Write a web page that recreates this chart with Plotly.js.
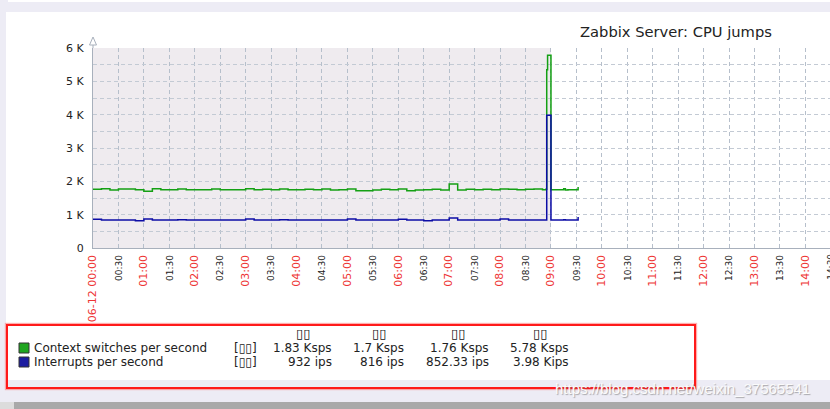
<!DOCTYPE html>
<html>
<head>
<meta charset="utf-8">
<script src="https://cdn.plot.ly/plotly-3.0.1.min.js"></script>
<style>
  html, body { margin:0; padding:0; width:830px; height:409px; overflow:hidden; background:#edecf5; position:relative; }
  #topstrip { position:absolute; left:8px; top:0; width:822px; height:2px; background:#ffffff; }
  #panel { position:absolute; left:6px; top:12px; width:824px; height:368px; background:#ffffff; }
  #scroll { position:absolute; left:0; top:402px; width:830px; height:7px; background:#a9a9a9; }
  #scrollL { position:absolute; left:0; top:402px; width:14px; height:7px; background:#dcdcdc; }
  #chart { position:absolute; left:0; top:0; width:830px; height:409px; }
  #redbox { position:absolute; left:6px; top:324px; width:686px; height:61px; border:2px solid #ff1a1a; box-shadow:0 0 1px 1px rgba(255,120,120,0.6); pointer-events:none; }
  #wm { position:absolute; left:0; top:0; width:830px; height:409px; pointer-events:none; }
</style>
</head>
<body>
<div id="topstrip"></div>
<div id="panel"></div>
<div id="scroll"></div>
<div id="scrollL"></div>
<div id="chart"></div>
<div id="redbox"></div>
<div id="wm"></div>
<script>
// ---- data (minutes after 06-12 00:00) ----
const minutes = [0,10,20,30,40,50,60,70,80,90,100,110,120,130,140,150,160,170,180,190,
  200,210,220,230,240,250,260,270,280,290,300,310,320,330,340,350,360,370,380,390,
  400,410,420,430,440,450,460,470,480,490,500,510,520,530,534,535,536,540,545,550,555,557,560,565,570,572];
const contextSwitches = [1760,1775,1740,1770,1770,1750,1700,1780,1750,1750,1770,1750,1750,1750,1770,1750,1750,1750,1780,1750,
  1760,1750,1770,1750,1750,1760,1750,1770,1740,1750,1770,1720,1720,1740,1760,1750,1770,1720,1740,1750,
  1760,1740,1920,1740,1760,1750,1760,1750,1770,1760,1750,1760,1770,1750,1760,5350,5780,1750,1750,1750,1780,1740,1750,1750,1750,1830];
const interrupts = [860,840,840,840,840,816,870,840,840,840,845,840,840,840,840,840,840,840,870,840,
  840,840,850,840,840,840,840,840,840,840,870,840,840,840,840,840,860,840,840,820,
  840,840,900,840,840,840,840,840,870,840,840,840,840,840,840,3980,3980,840,840,840,845,840,840,840,840,932];

const xTickVals = [0,30,60,90,120,150,180,210,240,270,300,330,360,390,420,450,480,510,540,570,600,630,660,690,720,750,780,810,840,870];
const xTickLabels = ["06-12 00:00","00:30","01:00","01:30","02:00","02:30","03:00","03:30","04:00","04:30","05:00","05:30","06:00","06:30","07:00","07:30","08:00","08:30","09:00","09:30","10:00","10:30","11:00","11:30","12:00","12:30","13:00","13:30","14:00","14:30"];
const yTickVals = [0,500,1000,1500,2000,2500,3000,3500,4000,4500,5000,5500,6000];
const yTickLabels = ["0","","1 K","","2 K","","3 K","","4 K","","5 K","","6 K"];

const seriesNames = ["Context switches per second","Interrupts per second"];
const seriesFunc = ["[\u25AF\u25AF]","[\u25AF\u25AF]"];
const statHeaders = ["\u25AF\u25AF","\u25AF\u25AF","\u25AF\u25AF","\u25AF\u25AF"];
const statsContext = ["1.83 Ksps","1.7 Ksps","1.76 Ksps","5.78 Ksps"];
const statsInterrupts = ["932 ips","816 ips","852.33 ips","3.98 Kips"];
const chartTitle = "Zabbix Server: CPU jumps";
const watermark = "https://blog.csdn.net/weixin_37565541";
const workTimeEnd = 540;
const xMax = 869;

// ---- layout helpers (pixel -> paper) ----
const L = 93, R = 830, T = 48, B = 248;
const px = v => (v - L) / (R - L);
const py = v => (B - v) / (B - T);

const colGreen = '#14a014', colBlue = '#0c0ca6';
const font = 'DejaVu Sans, sans-serif';

const isHour = i => i % 2 === 0;
const styleLabel = (t, i) => isHour(i)
  ? '<span style="color:#ee3535;font-size:11px">' + t + '</span>'
  : '<span style="color:#222222;font-size:9px">' + t + '</span>';
const ticktext = xTickLabels.map(styleLabel);

const traces = [
  {x: minutes, y: contextSwitches, type:'scatter', mode:'lines', line:{color:colGreen, width:1.5, shape:'hv'}, name:seriesNames[0], hoverinfo:'skip'},
  {x: minutes, y: interrupts, type:'scatter', mode:'lines', line:{color:colBlue, width:1.5, shape:'hv'}, name:seriesNames[1], hoverinfo:'skip'}
];

const ann = [];
ann.push({text: chartTitle, xref:'paper', yref:'paper', x: px(774), y: py(31), xanchor:'right', yanchor:'middle', showarrow:false, font:{family:font, size:14.7, color:'#222'}});
// tick labels whose tick lies just beyond the visible range (partly cut by the window edge)
xTickVals.forEach((v, i) => {
  if (v > xMax) ann.push({text: styleLabel(xTickLabels[i], i), xref:'paper', yref:'paper', x: v / xMax, y: py(252), xanchor:'center', yanchor:'top', textangle:-90, showarrow:false, font:{family:font, size:10}});
});
const headerX = [303, 379, 458, 540];
const valueRight = [333, 405, 490, 570];
statHeaders.forEach((h, i) => ann.push({text:h, xref:'paper', yref:'paper', x:px(headerX[i]), y:py(333), xanchor:'center', yanchor:'middle', showarrow:false, borderpad:0, font:{family:font, size:13, color:'#111', weight:'bold'}}));
const rows = [{y:347.5, stats:statsContext}, {y:362, stats:statsInterrupts}];
rows.forEach((r, k) => {
  ann.push({text: seriesNames[k], xref:'paper', yref:'paper', x:px(33), y:py(r.y), xanchor:'left', yanchor:'middle', showarrow:false, borderpad:0, font:{family:font, size:12, color:'#222'}});
  ann.push({text: seriesFunc[k], xref:'paper', yref:'paper', x:px(233), y:py(r.y), xanchor:'left', yanchor:'middle', showarrow:false, borderpad:0, font:{family:font, size:12, color:'#222'}});
  r.stats.forEach((s, i) => ann.push({text:s, xref:'paper', yref:'paper', x:px(valueRight[i]), y:py(r.y), xanchor:'right', yanchor:'middle', showarrow:false, borderpad:0, font:{family:font, size:12, color:'#222'}}));
});

const shapes = [
  {type:'rect', xref:'x', yref:'paper', x0:0, x1:workTimeEnd, y0:0, y1:1, fillcolor:'#efebef', line:{width:0}, layer:'below'},
  {type:'line', xref:'paper', yref:'paper', x0:0, x1:0, y0:1, y1:py(40), line:{color:'#a8b0bc', width:1}},
  {type:'path', xref:'paper', yref:'paper', path:'M '+px(89.5)+' '+py(45)+' L '+px(96.5)+' '+py(45)+' L '+px(93)+' '+py(37)+' Z', fillcolor:'#ffffff', line:{color:'#a8b0bc', width:1}},
  {type:'rect', xref:'paper', yref:'paper', x0:px(19), x1:px(29), y0:py(343), y1:py(353), fillcolor:'#1fa51f', line:{color:'#333', width:1}},
  {type:'rect', xref:'paper', yref:'paper', x0:px(19), x1:px(29), y0:py(357), y1:py(367), fillcolor:'#1c1ca0', line:{color:'#333', width:1}}
];

const layout = {
  width:830, height:409,
  margin:{l:L, r:830-R, t:T, b:409-B, pad:0},
  paper_bgcolor:'rgba(0,0,0,0)', plot_bgcolor:'#ffffff',
  showlegend:false,
  xaxis:{range:[0, xMax], tickmode:'array', tickvals:xTickVals, ticktext:ticktext, tickangle:-90,
         tickfont:{family:font, size:10}, ticks:'', showgrid:true, gridcolor:'#b6bfcb', griddash:'4px,3px', gridwidth:1,
         showline:true, linecolor:'#a8b0bc', linewidth:1, zeroline:false, fixedrange:true, ticklabelstandoff:2},
  yaxis:{range:[0, 6000], tickmode:'array', tickvals:yTickVals, ticktext:yTickLabels,
         tickfont:{family:font, size:11, color:'#222'}, ticks:'', showgrid:true, gridcolor:'#c3cad4', griddash:'4px,3px', gridwidth:1,
         showline:true, linecolor:'#a8b0bc', linewidth:1, zeroline:false, fixedrange:true, ticklabelstandoff:6},
  annotations:ann, shapes:shapes
};

Plotly.newPlot('chart', traces, layout, {staticPlot:true, displayModeBar:false});

// faint blog watermark drawn on top of the red frame
Plotly.newPlot('wm', [], {
  width:830, height:409, margin:{l:0, r:0, t:0, b:0},
  paper_bgcolor:'rgba(0,0,0,0)', plot_bgcolor:'rgba(0,0,0,0)',
  xaxis:{visible:false, range:[0,830]}, yaxis:{visible:false, range:[409,0]},
  annotations:[{text:watermark, xref:'x', yref:'y', x:553, y:388, xanchor:'left', yanchor:'middle', showarrow:false,
    font:{family:'Liberation Sans, Arial, sans-serif', size:15, color:'#fbfbfb', shadow:'1px 1px 1px rgba(110,110,110,0.55)'}}]
}, {staticPlot:true, displayModeBar:false});
</script>
</body>
</html>
